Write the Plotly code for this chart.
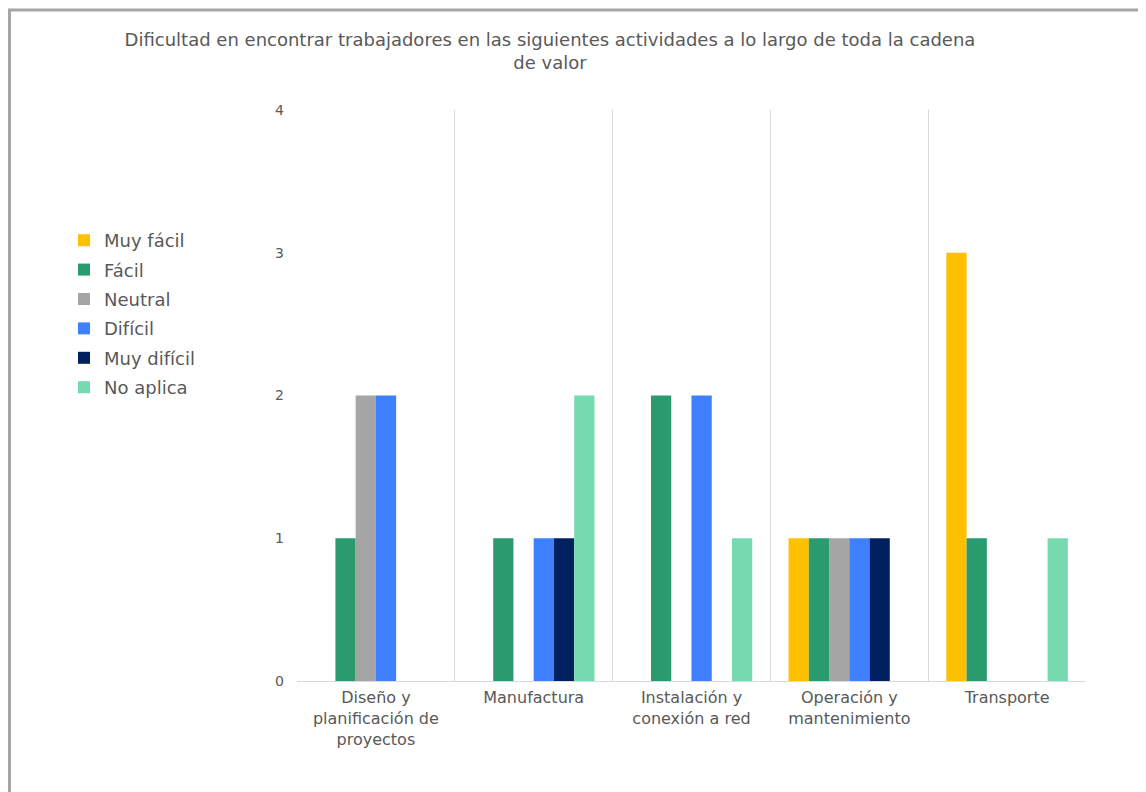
import plotly.graph_objects as go

# categories along the value chain
categories = [
    "Diseño y<br>planificación de<br>proyectos",
    "Manufactura",
    "Instalación y<br>conexión a red",
    "Operación y<br>mantenimiento",
    "Transporte",
]

# answer counts per difficulty level
muy_facil = [0, 0, 0, 1, 3]
facil = [1, 1, 2, 1, 1]
neutral = [2, 0, 0, 1, 0]
dificil = [2, 1, 2, 1, 0]
muy_dificil = [0, 1, 0, 1, 0]
no_aplica = [0, 2, 1, 0, 1]

series = [
    ("Muy fácil", muy_facil, "#FFC000"),
    ("Fácil", facil, "#2A9B6E"),
    ("Neutral", neutral, "#A5A5A5"),
    ("Difícil", dificil, "#3F80FF"),
    ("Muy difícil", muy_dificil, "#002060"),
    ("No aplica", no_aplica, "#75DAAF"),
]

FONT = "DejaVu Sans"
GREY = "#595959"

fig = go.Figure()
for name, vals, color in series:
    fig.add_trace(go.Bar(x=categories, y=vals, name=name, legendgroup=name,
                         marker=dict(color=color, line=dict(width=0))))

# page offset (body margin) and plot-area box in reference pixels
OFF = 8
W, H = 1146 - OFF, 792 - OFF
L, R, T, B = 297 - OFF, 1086 - OFF, 110 - OFF, 681 - OFF
pw, ph = R - L, B - T

def px(x):
    return (x - OFF - L) / pw

def py(y):
    return (B - (y - OFF)) / ph

fig.update_layout(
    width=W, height=H,
    margin=dict(l=L, r=W - R, t=T, b=H - B),
    paper_bgcolor="white",
    plot_bgcolor="white",
    barmode="group",
    bargap=0.23,
    bargroupgap=0,
    font=dict(family=FONT, color=GREY),
    title=dict(
        text="Dificultad en encontrar trabajadores en las siguientes actividades a lo largo de toda la cadena<br>de valor",
        font=dict(size=18, color=GREY, family=FONT),
        x=(550 - OFF) / W, xanchor="center", xref="container",
        y=1 - 38 / H, yanchor="top", yref="container",
    ),
    legend=dict(
        x=px(64), y=py(222), xanchor="left", yanchor="top",
        font=dict(size=18, color=GREY, family=FONT),
        bgcolor="rgba(0,0,0,0)",
        itemwidth=30,
        tracegroupgap=3,
    ),
    xaxis=dict(
        tickson="boundaries",
        showgrid=True, gridcolor="#D9D9D9", gridwidth=1,
        showline=True, linecolor="#D9D9D9", linewidth=1,
        ticks="", tickfont=dict(size=16, color=GREY, family=FONT),
        ticklabelstandoff=2,
    ),
    yaxis=dict(
        range=[0, 4], dtick=1, showgrid=False, zeroline=False,
        showline=False, ticks="",
        tickfont=dict(size=14, color=GREY, family=FONT),
        ticklabelstandoff=12,
    ),
    shapes=[
        # outer frame (top and left edges of the chart box)
        dict(type="line", xref="paper", yref="paper",
             x0=px(8), x1=px(1146), y0=py(10), y1=py(10),
             line=dict(color="#A6A6A6", width=3)),
        dict(type="line", xref="paper", yref="paper",
             x0=px(9.5), x1=px(9.5), y0=py(9), y1=py(792),
             line=dict(color="#A6A6A6", width=3)),
    ],
)

fig.write_html("out.html")
